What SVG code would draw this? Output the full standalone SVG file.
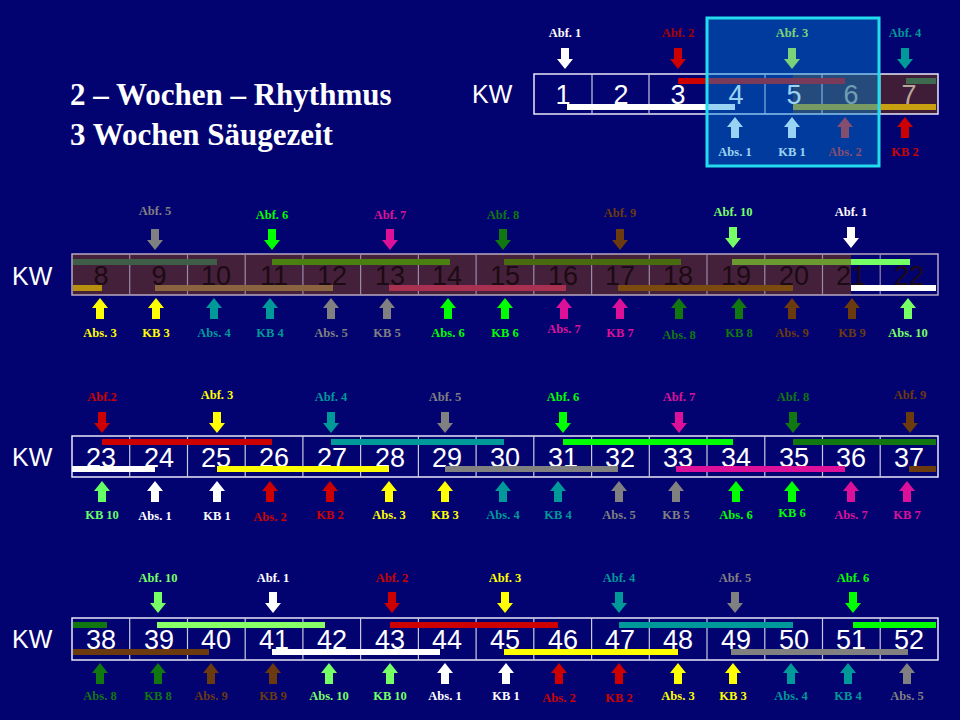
<svg xmlns="http://www.w3.org/2000/svg" xmlns:xlink="http://www.w3.org/1999/xlink" width="960" height="720" viewBox="0 0 960 720">
<defs>
<path id="dn" d="M-4,0 h8 v11 h4 l-8,10 l-8,-10 h4 z"/>
<path id="up" d="M-4,21 h8 v-11 h4 l-8,-10 l-8,10 h4 z"/>
<style>
.lb{font-family:"Liberation Serif",serif;font-weight:bold;font-size:12.5px;text-anchor:middle}
.num{font-family:"Liberation Sans",Arial,sans-serif;font-size:27px;text-anchor:middle;fill:#fff}
.kw{font-family:"Liberation Sans",Arial,sans-serif;font-size:25px;fill:#fff}
.ttl{font-family:"Liberation Serif",serif;font-weight:bold;font-size:31px;fill:#fff}
.cell{fill:none;stroke:#e8e8f8;stroke-width:1.5}
.gl{stroke:#c8c8e0;stroke-width:1.2}
.w{fill:#fff}.r{fill:#cc0000}.y{fill:#ffff00}.t{fill:#009999}.g{fill:#808080}.gr{fill:#00ff00}.m{fill:#dd1199}.dg{fill:#117711}.br{fill:#6b3a0f}.lg{fill:#77ff66}
</style>
</defs>
<rect width="960" height="720" fill="#020270"/>
<g id="title">
<text class="ttl" x="70" y="105">2 – Wochen – Rhythmus</text>
<text class="ttl" x="70" y="145">3 Wochen Säugezeit</text>
</g>

<g id="row1">
<text class="kw" x="472" y="103">KW</text>
<rect x="793" y="74" width="145" height="40" fill="#5a2a22" opacity="0.7"/>
<rect class="cell" x="534" y="74" width="404" height="40"/>
<path class="gl" d="M592,74V114M649,74V114M707,74V114M765,74V114M822,74V114M880,74V114"/>
<text class="num" x="563" y="104">1</text><text class="num" x="621" y="104">2</text><text class="num" x="678" y="104">3</text><text class="num" x="736" y="104">4</text><text class="num" x="794" y="104">5</text><text class="num" x="851" y="104" style="fill:#b8a898">6</text><text class="num" x="909" y="104" style="fill:#b8a898">7</text>
<rect x="678" y="78" width="167" height="6" fill="#cc0000"/>
<rect x="906" y="78" width="30" height="6" fill="#3e6a50"/>
<rect x="567" y="104" width="168" height="6" fill="#fff"/>
<rect x="793" y="104" width="143" height="6" fill="#c8a010"/>
<text class="lb w" x="565" y="37">Abf. 1</text><use href="#dn" x="565" y="48" class="w"/>
<text class="lb" x="678" y="37" fill="#aa0000">Abf. 2</text><use href="#dn" x="678" y="48" class="r"/>
<text class="lb" x="792" y="37" fill="#ccff33">Abf. 3</text><use href="#dn" x="792" y="48" fill="#ccff33"/>
<text class="lb t" x="905" y="37">Abf. 4</text><use href="#dn" x="905" y="48" class="t"/>
<use href="#up" x="735" y="117" class="w"/><text class="lb w" x="735" y="156">Abs. 1</text>
<use href="#up" x="792" y="117" class="w"/><text class="lb w" x="792" y="156">KB 1</text>
<use href="#up" x="845" y="117" fill="#dd2222"/><text class="lb" x="845" y="156" fill="#dd2222">Abs. 2</text>
<use href="#up" x="905" y="117" class="r"/><text class="lb r" x="905" y="156">KB 2</text>
<rect x="707" y="18" width="172" height="148" fill="#0090e0" fill-opacity="0.4" stroke="#22ddee" stroke-width="3"/>
</g>

<g id="row2">
<text class="kw" x="12" y="285">KW</text>
<rect x="72" y="254" width="779" height="41" fill="#45203a"/>
<g class="num" style="fill:#1c0a14">
<text x="101" y="285">8</text><text x="159" y="285">9</text><text x="216" y="285">10</text><text x="274" y="285">11</text><text x="332" y="285">12</text><text x="390" y="285">13</text><text x="447" y="285">14</text><text x="505" y="285">15</text><text x="563" y="285">16</text><text x="620" y="285">17</text><text x="678" y="285">18</text><text x="736" y="285">19</text><text x="794" y="285">20</text><text x="851" y="285">21</text><text x="909" y="285">22</text>
</g>
<rect class="cell" x="72" y="254" width="866" height="41" style="stroke:#b8a8c0"/>
<path class="gl" style="stroke:#9a8aa8" d="M129.7,254V295M187.5,254V295M245.2,254V295M302.9,254V295M360.6,254V295M418.4,254V295M476.1,254V295M533.8,254V295M591.6,254V295M649.3,254V295M707,254V295M764.8,254V295M822.5,254V295M880.2,254V295"/>
<rect x="73" y="259" width="144" height="6" fill="#3e5e48"/>
<rect x="272" y="259" width="178" height="6" fill="#4a8010"/>
<rect x="504" y="259" width="177" height="6" fill="#4a6a10"/>
<rect x="732" y="259" width="119" height="6" fill="#6a9a30"/>
<rect x="851" y="259" width="59" height="6" fill="#77ff66"/>
<rect x="73" y="285" width="29" height="6" fill="#b89010"/>
<rect x="155" y="285" width="178" height="6" fill="#8a6440"/>
<rect x="389" y="285" width="177" height="6" fill="#a83050"/>
<rect x="618" y="285" width="175" height="6" fill="#7a4a10"/>
<rect x="851" y="285" width="85" height="6" fill="#fff"/>
<text class="lb g" x="155" y="215">Abf. 5</text><use href="#dn" x="155" y="229" class="g"/>
<text class="lb gr" x="272" y="219">Abf. 6</text><use href="#dn" x="272" y="229" class="gr"/>
<text class="lb m" x="390" y="219">Abf. 7</text><use href="#dn" x="390" y="229" class="m"/>
<text class="lb dg" x="503" y="219">Abf. 8</text><use href="#dn" x="503" y="229" class="dg"/>
<text class="lb br" x="620" y="217">Abf. 9</text><use href="#dn" x="620" y="229" class="br"/>
<text class="lb lg" x="733" y="216">Abf. 10</text><use href="#dn" x="733" y="227" class="lg"/>
<text class="lb w" x="851" y="216">Abf. 1</text><use href="#dn" x="851" y="227" class="w"/>
<g>
<use href="#up" x="100" y="298" class="y"/><text class="lb y" x="100" y="337">Abs. 3</text>
<use href="#up" x="156" y="298" class="y"/><text class="lb y" x="156" y="337">KB 3</text>
<use href="#up" x="214" y="298" class="t"/><text class="lb t" x="214" y="337">Abs. 4</text>
<use href="#up" x="270" y="298" class="t"/><text class="lb t" x="270" y="337">KB 4</text>
<use href="#up" x="331" y="298" class="g"/><text class="lb g" x="331" y="337">Abs. 5</text>
<use href="#up" x="387" y="298" class="g"/><text class="lb g" x="387" y="337">KB 5</text>
<use href="#up" x="448" y="298" class="gr"/><text class="lb gr" x="448" y="337">Abs. 6</text>
<use href="#up" x="505" y="298" class="gr"/><text class="lb gr" x="505" y="337">KB 6</text>
<use href="#up" x="564" y="298" class="m"/><text class="lb m" x="564" y="333">Abs. 7</text>
<use href="#up" x="620" y="298" class="m"/><text class="lb m" x="620" y="337">KB 7</text>
<use href="#up" x="679" y="298" class="dg"/><text class="lb dg" x="679" y="339">Abs. 8</text>
<use href="#up" x="739" y="298" class="dg"/><text class="lb dg" x="739" y="337">KB 8</text>
<use href="#up" x="792" y="298" class="br"/><text class="lb br" x="792" y="337">Abs. 9</text>
<use href="#up" x="852" y="298" class="br"/><text class="lb br" x="852" y="337">KB 9</text>
<use href="#up" x="908" y="298" class="lg"/><text class="lb lg" x="908" y="337">Abs. 10</text>
</g>
</g>

<g id="row3">
<text class="kw" x="12" y="466">KW</text>
<rect class="cell" x="72" y="436" width="866" height="41"/>
<path class="gl" d="M129.7,436V477M187.5,436V477M245.2,436V477M302.9,436V477M360.6,436V477M418.4,436V477M476.1,436V477M533.8,436V477M591.6,436V477M649.3,436V477M707,436V477M764.8,436V477M822.5,436V477M880.2,436V477"/>
<g class="num">
<text x="101" y="467">23</text><text x="159" y="467">24</text><text x="216" y="467">25</text><text x="274" y="467">26</text><text x="332" y="467">27</text><text x="390" y="467">28</text><text x="447" y="467">29</text><text x="505" y="467">30</text><text x="563" y="467">31</text><text x="620" y="467">32</text><text x="678" y="467">33</text><text x="736" y="467">34</text><text x="794" y="467">35</text><text x="851" y="467">36</text><text x="909" y="467">37</text>
</g>
<rect x="102" y="439" width="170" height="6" fill="#cc0000"/>
<rect x="331" y="439" width="173" height="6" fill="#009999"/>
<rect x="563" y="439" width="170" height="6" fill="#00ff00"/>
<rect x="793" y="439" width="143" height="6" fill="#117711"/>
<rect x="72" y="466" width="83" height="6" fill="#fff"/>
<rect x="217" y="466" width="172" height="6" fill="#ffff00"/>
<rect x="445" y="466" width="173" height="6" fill="#808080"/>
<rect x="676" y="466" width="169" height="6" fill="#dd1199"/>
<rect x="909" y="466" width="27" height="6" fill="#6b3a0f"/>
<text class="lb r" x="102" y="401">Abf.2</text><use href="#dn" x="102" y="412" class="r"/>
<text class="lb y" x="217" y="399">Abf. 3</text><use href="#dn" x="217" y="412" class="y"/>
<text class="lb t" x="331" y="401">Abf. 4</text><use href="#dn" x="331" y="412" class="t"/>
<text class="lb g" x="445" y="401">Abf. 5</text><use href="#dn" x="445" y="412" class="g"/>
<text class="lb gr" x="563" y="401">Abf. 6</text><use href="#dn" x="563" y="412" class="gr"/>
<text class="lb m" x="679" y="401">Abf. 7</text><use href="#dn" x="679" y="412" class="m"/>
<text class="lb dg" x="793" y="401">Abf. 8</text><use href="#dn" x="793" y="412" class="dg"/>
<text class="lb br" x="910" y="399">Abf. 9</text><use href="#dn" x="910" y="412" class="br"/>
<use href="#up" x="102" y="481" fill="#66ff66"/><text class="lb" fill="#66ff66" x="102" y="519">KB 10</text>
<use href="#up" x="155" y="481" class="w"/><text class="lb w" x="155" y="520">Abs. 1</text>
<use href="#up" x="217" y="481" class="w"/><text class="lb w" x="217" y="520">KB 1</text>
<use href="#up" x="270" y="481" class="r"/><text class="lb r" x="270" y="521">Abs. 2</text>
<use href="#up" x="330" y="481" class="r"/><text class="lb r" x="330" y="519">KB 2</text>
<use href="#up" x="389" y="481" class="y"/><text class="lb y" x="389" y="519">Abs. 3</text>
<use href="#up" x="445" y="481" class="y"/><text class="lb y" x="445" y="519">KB 3</text>
<use href="#up" x="503" y="481" class="t"/><text class="lb t" x="503" y="519">Abs. 4</text>
<use href="#up" x="558" y="481" class="t"/><text class="lb t" x="558" y="519">KB 4</text>
<use href="#up" x="619" y="481" class="g"/><text class="lb g" x="619" y="519">Abs. 5</text>
<use href="#up" x="676" y="481" class="g"/><text class="lb g" x="676" y="519">KB 5</text>
<use href="#up" x="736" y="481" class="gr"/><text class="lb gr" x="736" y="519">Abs. 6</text>
<use href="#up" x="792" y="481" class="gr"/><text class="lb gr" x="792" y="517">KB 6</text>
<use href="#up" x="851" y="481" class="m"/><text class="lb m" x="851" y="519">Abs. 7</text>
<use href="#up" x="907" y="481" class="m"/><text class="lb m" x="907" y="519">KB 7</text>
</g>

<g id="row4">
<text class="kw" x="12" y="648">KW</text>
<rect class="cell" x="72" y="618" width="866" height="42"/>
<path class="gl" d="M129.7,618V660M187.5,618V660M245.2,618V660M302.9,618V660M360.6,618V660M418.4,618V660M476.1,618V660M533.8,618V660M591.6,618V660M649.3,618V660M707,618V660M764.8,618V660M822.5,618V660M880.2,618V660"/>
<g class="num">
<text x="101" y="649">38</text><text x="159" y="649">39</text><text x="216" y="649">40</text><text x="274" y="649">41</text><text x="332" y="649">42</text><text x="390" y="649">43</text><text x="447" y="649">44</text><text x="505" y="649">45</text><text x="563" y="649">46</text><text x="620" y="649">47</text><text x="678" y="649">48</text><text x="736" y="649">49</text><text x="794" y="649">50</text><text x="851" y="649">51</text><text x="909" y="649">52</text>
</g>
<rect x="73" y="622" width="34" height="6" fill="#117711"/>
<rect x="157" y="622" width="168" height="6" fill="#88ff66"/>
<rect x="390" y="622" width="168" height="6" fill="#cc0000"/>
<rect x="619" y="622" width="174" height="6" fill="#009999"/>
<rect x="853" y="622" width="83" height="6" fill="#00ff00"/>
<rect x="73" y="649" width="136" height="6" fill="#6b3a0f"/>
<rect x="272" y="649" width="168" height="6" fill="#fff"/>
<rect x="504" y="649" width="174" height="6" fill="#ffff00"/>
<rect x="731" y="649" width="177" height="6" fill="#808080"/>
<text class="lb lg" x="158" y="582">Abf. 10</text><use href="#dn" x="158" y="592" class="lg"/>
<text class="lb w" x="273" y="582">Abf. 1</text><use href="#dn" x="273" y="592" class="w"/>
<text class="lb r" x="392" y="582">Abf. 2</text><use href="#dn" x="392" y="592" class="r"/>
<text class="lb y" x="505" y="582">Abf. 3</text><use href="#dn" x="505" y="592" class="y"/>
<text class="lb t" x="619" y="582">Abf. 4</text><use href="#dn" x="619" y="592" class="t"/>
<text class="lb g" x="735" y="582">Abf. 5</text><use href="#dn" x="735" y="592" class="g"/>
<text class="lb gr" x="853" y="582">Abf. 6</text><use href="#dn" x="853" y="592" class="gr"/>
<use href="#up" x="100" y="663" class="dg"/><text class="lb dg" x="100" y="700">Abs. 8</text>
<use href="#up" x="158" y="663" class="dg"/><text class="lb dg" x="158" y="700">KB 8</text>
<use href="#up" x="211" y="663" class="br"/><text class="lb br" x="211" y="700">Abs. 9</text>
<use href="#up" x="273" y="663" class="br"/><text class="lb br" x="273" y="700">KB 9</text>
<use href="#up" x="329" y="663" class="lg"/><text class="lb lg" x="329" y="700">Abs. 10</text>
<use href="#up" x="390" y="663" class="lg"/><text class="lb lg" x="390" y="700">KB 10</text>
<use href="#up" x="445" y="663" class="w"/><text class="lb w" x="445" y="700">Abs. 1</text>
<use href="#up" x="506" y="663" class="w"/><text class="lb w" x="506" y="700">KB 1</text>
<use href="#up" x="559" y="663" class="r"/><text class="lb r" x="559" y="702">Abs. 2</text>
<use href="#up" x="619" y="663" class="r"/><text class="lb r" x="619" y="702">KB 2</text>
<use href="#up" x="678" y="663" class="y"/><text class="lb y" x="678" y="700">Abs. 3</text>
<use href="#up" x="733" y="663" class="y"/><text class="lb y" x="733" y="700">KB 3</text>
<use href="#up" x="791" y="663" class="t"/><text class="lb t" x="791" y="700">Abs. 4</text>
<use href="#up" x="848" y="663" class="t"/><text class="lb t" x="848" y="700">KB 4</text>
<use href="#up" x="907" y="663" class="g"/><text class="lb g" x="907" y="700">Abs. 5</text>
</g>
</svg>
